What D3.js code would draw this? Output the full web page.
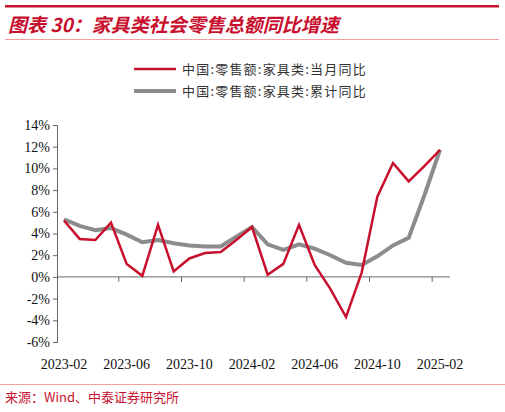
<!DOCTYPE html><html><head><meta charset="utf-8"><script src="https://cdn.jsdelivr.net/npm/d3@7"></script>
<style>body{margin:0;background:#fff}svg{display:block}</style></head><body><svg width="505" height="412"></svg>
<script>
const months=["2023-02","2023-03","2023-04","2023-05","2023-06","2023-07","2023-08","2023-09","2023-10","2023-11","2023-12","2024-01","2024-02","2024-03","2024-04","2024-05","2024-06","2024-07","2024-08","2024-09","2024-10","2024-11","2024-12","2025-01","2025-02"];
const monthly=[5.2,3.5,3.4,5.0,1.2,0.1,4.8,0.5,1.7,2.2,2.3,3.4,4.6,0.2,1.2,4.8,1.1,-1.1,-3.7,0.4,7.4,10.5,8.8,10.2,11.7];
const cumulative=[5.3,4.7,4.3,4.5,3.9,3.2,3.4,3.1,2.9,2.8,2.8,3.7,4.6,3.0,2.5,3.0,2.6,2.0,1.3,1.1,1.9,2.9,3.6,7.5,11.7];
const tickLabels=["2023-02","2023-06","2023-10","2024-02","2024-06","2024-10","2025-02"];
const yTicks=[-6,-4,-2,0,2,4,6,8,10,12,14];
const svg=d3.select("svg");
const red="#c8102e",gray="#8c8c8c",serif="'Liberation Serif','DejaVu Serif',serif";
svg.append("rect").attr("x",5).attr("y",5).attr("width",494).attr("height",2.5).attr("fill",red);
svg.append("text").attr("x",8).attr("y",32).attr("fill",red).attr("font-size",19).attr("font-weight","bold").attr("font-style","italic").attr("font-family","'Noto Sans CJK SC'").text("图表 30：家具类社会零售总额同比增速");
svg.append("rect").attr("x",5).attr("y",39).attr("width",494).attr("height",0.8).attr("fill","#e88");
const lg=[["中国:零售额:家具类:当月同比",red,2.5],["中国:零售额:家具类:累计同比",gray,4]];
lg.forEach((d,i)=>{const y=69+i*22;
svg.append("line").attr("x1",134).attr("x2",176).attr("y1",y).attr("y2",y).attr("stroke",d[1]).attr("stroke-width",d[2]);
svg.append("text").attr("x",182).attr("y",y+5).attr("font-size",13).attr("letter-spacing",1.2).attr("font-family","'Noto Sans CJK SC'").attr("fill","#333").text(d[0]);});
const x=d3.scalePoint().domain(months).range([64,440]);
const y=d3.scaleLinear().domain([-6,14]).range([342,125]);
svg.append("g").attr("transform","translate(57,0)").call(d3.axisLeft(y).tickValues(yTicks).tickFormat(d=>d+"%").tickSize(4))
 .call(g=>{g.selectAll("text").attr("font-family",serif).attr("font-size",14).attr("fill","#111");g.selectAll("line,path").attr("stroke","#666");});
const step=x.step();
const ax=svg.append("g");
ax.append("line").attr("x1",57).attr("x2",450).attr("y1",y(0)).attr("y2",y(0)).attr("stroke","#666");
[3.5,7.5,11.5,15.5,19.5,23.5].forEach(i=>ax.append("line").attr("x1",64+i*step).attr("x2",64+i*step).attr("y1",y(0)).attr("y2",y(0)+5).attr("stroke","#666"));
tickLabels.forEach(t=>svg.append("text").attr("x",x(t)).attr("y",369).attr("text-anchor","middle").attr("font-family",serif).attr("font-size",14).attr("fill","#111").text(t));
const line=d3.line().x((d,i)=>x(months[i])).y(d=>y(d));
svg.append("path").datum(cumulative).attr("d",line).attr("fill","none").attr("stroke",gray).attr("stroke-width",4);
svg.append("path").datum(monthly).attr("d",line).attr("fill","none").attr("stroke",red).attr("stroke-width",2.5);
svg.append("rect").attr("x",0).attr("y",384).attr("width",505).attr("height",0.8).attr("fill","#e88");
svg.append("text").attr("x",5).attr("y",402).attr("font-size",13).attr("font-family","'Noto Sans CJK SC'").attr("fill",red).text("来源：Wind、中泰证券研究所");
</script></body></html>
